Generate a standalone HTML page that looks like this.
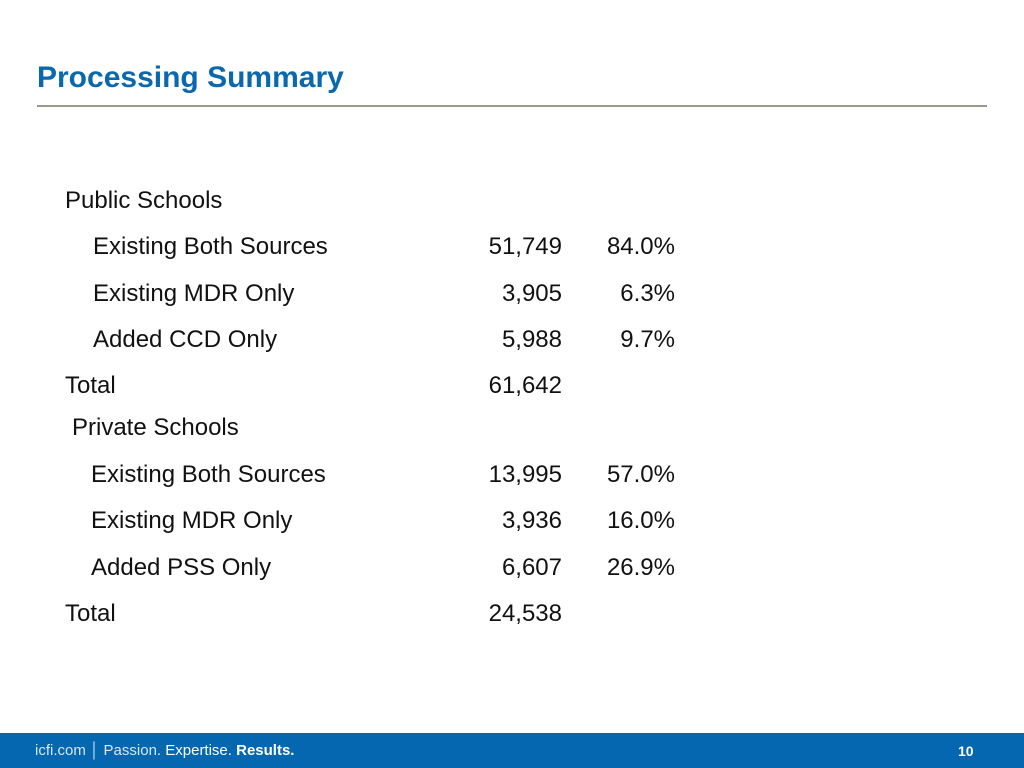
<!DOCTYPE html>
<html><head><meta charset="utf-8"><style>
body{margin:0;width:1024px;height:768px;position:relative;background:#fff;font-family:"Liberation Sans",sans-serif;overflow:hidden}
.t{position:absolute;font-size:24px;color:#111;line-height:30px;white-space:nowrap}
.r{text-align:right}
</style></head><body>
<div style="position:absolute;left:37px;top:61px;font-size:30px;font-weight:bold;color:#0a68ae">Processing Summary</div>
<div style="position:absolute;left:37px;top:105px;width:950px;height:2px;background:#9a9a8a"></div>
<div id="rows"></div>
<div style="position:absolute;left:0;top:733px;width:1024px;height:35px;background:#0467b0;color:#fff;font-size:15px">
<span style="position:absolute;left:35px;top:9px;color:#d8e6f3">icfi.com │ Passion. <span style="color:#fff">Expertise.</span> <b style="color:#fff">Results.</b></span>
<span style="position:absolute;left:958px;top:10px;font-weight:bold;font-size:14px">10</span>
</div>
<script>
const labels=["Public Schools","Existing Both Sources","Existing MDR Only","Added CCD Only","Total","Private Schools","Existing Both Sources","Existing MDR Only","Added PSS Only","Total"];
const counts=["","51,749","3,905","5,988","61,642","","13,995","3,936","6,607","24,538"];
const pcts=["","84.0%","6.3%","9.7%","","","57.0%","16.0%","26.9%",""];
const ys=[201,247,294,340,386,428,475,521,568,614];
const xs=[65,93,93,93,65,72,91,91,91,65];
const root=document.getElementById('rows');
labels.forEach((l,i)=>{
 const a=document.createElement('div');a.className='t';a.style.left=xs[i]+'px';a.style.top=(ys[i]-15)+'px';a.textContent=l;
 
 
 root.appendChild(a);
 if(counts[i]){const b=document.createElement('div');b.className='t r';b.style.left='400px';b.style.width='162px';b.style.top=(ys[i]-15)+'px';b.textContent=counts[i];
 
 
 root.appendChild(b);}
 if(pcts[i]){const c=document.createElement('div');c.className='t r';c.style.left='575px';c.style.width='100px';c.style.top=(ys[i]-15)+'px';c.textContent=pcts[i];
 
 
 root.appendChild(c);}
});
</script>
</body></html>
